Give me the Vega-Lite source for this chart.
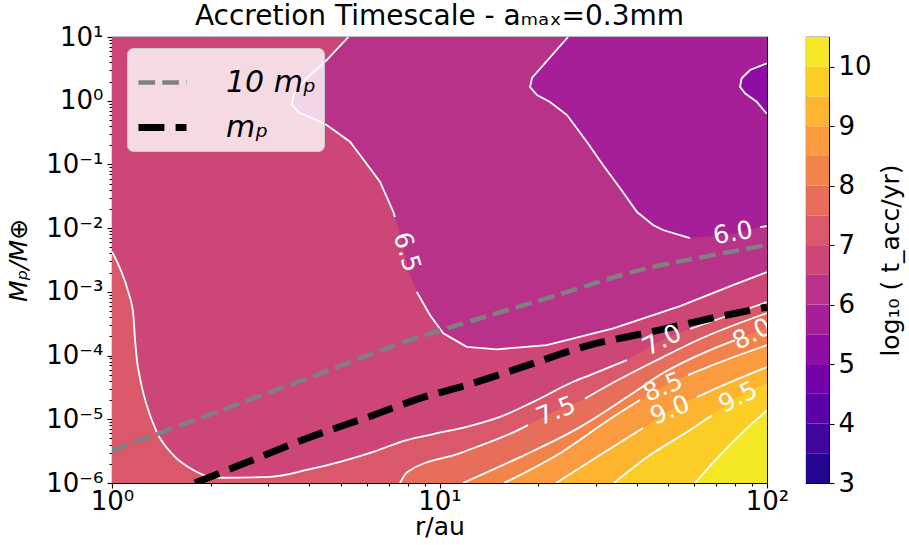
{
"$schema": "https://vega.github.io/schema/vega-lite/v6.json",
"padding": {"left": 6, "top": 2, "right": 4, "bottom": 4},
"bounds": "flush",
"spacing": 39,
"resolve": {"scale": {"color": "independent"}},
"config": {
  "font": "DejaVu Sans",
  "view": {"stroke": "black", "strokeWidth": 1.1},
  "axis": {"labelFont": "DejaVu Sans", "titleFont": "DejaVu Sans", "labelFontSize": 26, "titleFontSize": 25, "titleFontWeight": "normal", "labelColor": "black", "titleColor": "black", "tickColor": "black", "tickWidth": 1.1, "domain": false, "grid": false, "labelOverlap": false, "labelFlush": false, "labelBound": false},
  "title": {"font": "DejaVu Sans", "fontSize": 28, "fontWeight": "normal", "color": "black"},
  "legend": {"orient": "none", "legendX": 15, "legendY": 11, "fillColor": "rgba(255,255,255,0.8)", "strokeColor": "#cccccc", "cornerRadius": 6, "padding": 8, "labelFont": "DejaVu Sans", "labelFontSize": 30, "labelFontStyle": "italic", "labelColor": "black", "symbolType": "stroke", "symbolSize": 2304, "labelOffset": 36, "rowPadding": 2}
},
"datasets": {
  "bc": [
    {"lev":7,"x":1.0,"y":4.26e-3,"k":"7a"},
    {"lev":7,"x":1.058,"y":2.34e-3,"k":"7a"},
    {"lev":7,"x":1.121,"y":1.0e-3,"k":"7a"},
    {"lev":7,"x":1.162,"y":4.33e-4,"k":"7a"},
    {"lev":7,"x":1.175,"y":1.86e-4,"k":"7a"},
    {"lev":7,"x":1.19,"y":9.04e-5,"k":"7a"},
    {"lev":7,"x":1.218,"y":4.39e-5,"k":"7a"},
    {"lev":7,"x":1.276,"y":1.67e-5,"k":"7a"},
    {"lev":7,"x":1.369,"y":6.37e-6,"k":"7a"},
    {"lev":7,"x":1.539,"y":2.74e-6,"k":"7a"},
    {"lev":7,"x":1.771,"y":1.6e-6,"k":"7a"},
    {"lev":7,"x":1.992,"y":1.25e-6,"k":"7a"},
    {"lev":7,"x":2.187,"y":1.21e-6,"k":"7a"},
    {"lev":7,"x":3.036,"y":1.25e-6,"k":"7a"},
    {"lev":7,"x":3.93,"y":1.6e-6,"k":"7a"},
    {"lev":7,"x":4.968,"y":2.15e-6,"k":"7a"},
    {"lev":7,"x":6.28,"y":3.09e-6,"k":"7a"},
    {"lev":7,"x":7.94,"y":4.71e-6,"k":"7a"},
    {"lev":7,"x":9.58,"y":5.86e-6,"k":"7a"},
    {"lev":7,"x":12.11,"y":7.62e-6,"k":"7a"},
    {"lev":7,"x":15.3,"y":1.09e-5,"k":"7a"},
    {"lev":7,"x":19.34,"y":1.88e-5,"k":"7a"},
    {"lev":7,"x":25.62,"y":3.88e-5,"k":"7a"},
    {"lev":7,"x":28.81,"y":4.94e-5,"k":"7a"},
    {"lev":7,"x":37.29,"y":8.49e-5,"k":"7a"},
    {"lev":7,"x":47.8,"y":1.75e-4,"k":"g"},
    {"lev":7,"x":58.2,"y":2.61e-4,"k":"7b"},
    {"lev":7,"x":77.1,"y":4.33e-4,"k":"7b"},
    {"lev":7,"x":100,"y":6.92e-4,"k":"7b"},
    {"lev":7.5,"x":7.574,"y":1e-6,"k":"75a"},
    {"lev":7.5,"x":7.958,"y":1.48e-6,"k":"75a"},
    {"lev":7.5,"x":11.55,"y":2.94e-6,"k":"75a"},
    {"lev":7.5,"x":17.37,"y":6.76e-6,"k":"75a"},
    {"lev":7.5,"x":18.63,"y":8.11e-6,"k":"75a"},
    {"lev":7.5,"x":22.69,"y":1.35e-5,"k":"g"},
    {"lev":7.5,"x":27.82,"y":2.1e-5,"k":"75b"},
    {"lev":7.5,"x":30.48,"y":2.77e-5,"k":"75b"},
    {"lev":7.5,"x":48.13,"y":9.47e-5,"k":"75b"},
    {"lev":7.5,"x":62.44,"y":1.82e-4,"k":"75b"},
    {"lev":7.5,"x":100,"y":4.65e-4,"k":"75b"},
    {"lev":8,"x":11.8,"y":1e-6,"k":"8a"},
    {"lev":8,"x":17.62,"y":2.55e-6,"k":"8a"},
    {"lev":8,"x":26.85,"y":7.54e-6,"k":"8a"},
    {"lev":8,"x":38.17,"y":2.4e-5,"k":"8a"},
    {"lev":8,"x":48.13,"y":5.31e-5,"k":"8a"},
    {"lev":8,"x":66.99,"y":1.22e-4,"k":"8a"},
    {"lev":8,"x":79.85,"y":1.75e-4,"k":"8a"},
    {"lev":8,"x":100,"y":2.7e-4,"k":"g"},
    {"lev":8.5,"x":15.74,"y":1e-6,"k":"85a"},
    {"lev":8.5,"x":23.33,"y":2.94e-6,"k":"85a"},
    {"lev":8.5,"x":33.16,"y":1.01e-5,"k":"85a"},
    {"lev":8.5,"x":40.95,"y":2.0e-5,"k":"85a"},
    {"lev":8.5,"x":48.13,"y":3.2e-5,"k":"g"},
    {"lev":8.5,"x":57.38,"y":4.94e-5,"k":"85b"},
    {"lev":8.5,"x":66.99,"y":6.84e-5,"k":"85b"},
    {"lev":8.5,"x":100,"y":1.46e-4,"k":"85b"},
    {"lev":9,"x":22.69,"y":1e-6,"k":"9a"},
    {"lev":9,"x":30.91,"y":2.74e-6,"k":"9a"},
    {"lev":9,"x":41.82,"y":7.28e-6,"k":"9a"},
    {"lev":9,"x":50.55,"y":1.39e-5,"k":"g"},
    {"lev":9,"x":61.12,"y":2.23e-5,"k":"9b"},
    {"lev":9,"x":66.99,"y":2.77e-5,"k":"9b"},
    {"lev":9,"x":100,"y":6.59e-5,"k":"9b"},
    {"lev":9.5,"x":34.11,"y":1e-6,"k":"95a"},
    {"lev":9.5,"x":43.93,"y":2.74e-6,"k":"95a"},
    {"lev":9.5,"x":58.21,"y":6.76e-6,"k":"95a"},
    {"lev":9.5,"x":67.94,"y":1.16e-5,"k":"95a"},
    {"lev":9.5,"x":81.56,"y":2.23e-5,"k":"g"},
    {"lev":9.5,"x":100,"y":3.7e-5,"k":"g"},
    {"lev":10,"x":60.28,"y":1e-6,"k":"10a"},
    {"lev":10,"x":71.87,"y":2.74e-6,"k":"10a"},
    {"lev":10,"x":85.66,"y":6.76e-6,"k":"10a"},
    {"lev":10,"x":100,"y":1.39e-5,"k":"10a"}
  ],
  "lc": [
    {"k":"65a","i":1,"x":5.27,"y":10},
    {"k":"65a","i":2,"x":4.525,"y":4.355},
    {"k":"65a","i":3,"x":3.93,"y":2.247},
    {"k":"65a","i":4,"x":3.578,"y":1.229},
    {"k":"65a","i":5,"x":3.538,"y":0.856},
    {"k":"65a","i":6,"x":3.75,"y":0.634},
    {"k":"65a","i":7,"x":4.217,"y":0.498},
    {"k":"65a","i":8,"x":4.525,"y":0.4154},
    {"k":"65a","i":9,"x":5.33,"y":0.2272},
    {"k":"65a","i":10,"x":5.72,"y":0.1405},
    {"k":"65a","i":11,"x":6.58,"y":0.0535},
    {"k":"65a","i":12,"x":7.225,"y":0.01809},
    {"k":"65a","i":13,"x":7.31,"y":0.01494},
    {"k":"65b","i":14,"x":8.52,"y":1.004e-3},
    {"k":"65b","i":15,"x":9.35,"y":4.33e-4},
    {"k":"65b","i":16,"x":10.27,"y":2.23e-4},
    {"k":"65b","i":17,"x":12.11,"y":1.374e-4},
    {"k":"65b","i":18,"x":14.95,"y":1.251e-4},
    {"k":"65b","i":19,"x":21.25,"y":1.462e-4},
    {"k":"65b","i":20,"x":33.95,"y":2.673e-4},
    {"k":"65b","i":21,"x":54.25,"y":5.98e-4},
    {"k":"65b","i":22,"x":78.7,"y":1.279e-3},
    {"k":"65b","i":23,"x":100,"y":2.046e-3},
    {"k":"6a","i":1,"x":24.69,"y":10},
    {"k":"6a","i":2,"x":19.16,"y":2.272},
    {"k":"6a","i":3,"x":18.9,"y":1.641},
    {"k":"6a","i":4,"x":19.85,"y":1.229},
    {"k":"6a","i":5,"x":21.75,"y":0.954},
    {"k":"6a","i":6,"x":24.51,"y":0.5964},
    {"k":"6a","i":7,"x":28.21,"y":0.2247},
    {"k":"6a","i":8,"x":31.56,"y":0.0979},
    {"k":"6a","i":9,"x":35.57,"y":0.04261},
    {"k":"6a","i":10,"x":40.1,"y":0.01789},
    {"k":"6a","i":11,"x":44.87,"y":0.01119},
    {"k":"6a","i":12,"x":48.13,"y":9.34e-3},
    {"k":"6a","i":13,"x":58.21,"y":6.99e-3},
    {"k":"6b","i":14,"x":95.2,"y":0.01041},
    {"k":"6b","i":15,"x":100,"y":0.01079},
    {"k":"55a","i":1,"x":100,"y":3.865},
    {"k":"55a","i":2,"x":88.75,"y":3.034},
    {"k":"55a","i":3,"x":83.69,"y":2.247},
    {"k":"55a","i":4,"x":82.71,"y":1.659},
    {"k":"55a","i":5,"x":85.66,"y":1.307},
    {"k":"55a","i":6,"x":93.0,"y":0.9645},
    {"k":"55a","i":7,"x":98.6,"y":0.672},
    {"k":"55a","i":8,"x":100,"y":0.6295}
  ],
  "reg": [
    {"b":"6.0","x":3.538,"lo":0.856,"hi":0.856},
    {"b":"6.0","x":3.578,"lo":0.808,"hi":1.229},
    {"b":"6.0","x":3.75,"lo":0.634,"hi":1.662},
    {"b":"6.0","x":3.93,"lo":0.575,"hi":2.247},
    {"b":"6.0","x":4.217,"lo":0.498,"hi":3.128},
    {"b":"6.0","x":4.525,"lo":0.4154,"hi":4.355},
    {"b":"6.0","x":5.27,"lo":0.2372,"hi":10},
    {"b":"6.0","x":5.33,"lo":0.2272,"hi":10},
    {"b":"6.0","x":5.72,"lo":0.1405,"hi":10},
    {"b":"6.0","x":6.58,"lo":0.0535,"hi":10},
    {"b":"6.0","x":7.225,"lo":0.01809,"hi":10},
    {"b":"6.0","x":7.31,"lo":0.01494,"hi":10},
    {"b":"6.0","x":7.735,"lo":5.43e-3,"hi":10},
    {"b":"6.0","x":8.013,"lo":2.2e-3,"hi":10},
    {"b":"6.0","x":8.52,"lo":1.004e-3,"hi":10},
    {"b":"6.0","x":9.35,"lo":4.33e-4,"hi":10},
    {"b":"6.0","x":10.27,"lo":2.23e-4,"hi":10},
    {"b":"6.0","x":12.11,"lo":1.374e-4,"hi":10},
    {"b":"6.0","x":14.95,"lo":1.251e-4,"hi":10},
    {"b":"6.0","x":21.25,"lo":1.462e-4,"hi":10},
    {"b":"6.0","x":33.95,"lo":2.673e-4,"hi":10},
    {"b":"6.0","x":54.25,"lo":5.98e-4,"hi":10},
    {"b":"6.0","x":78.7,"lo":1.279e-3,"hi":10},
    {"b":"6.0","x":100,"lo":2.046e-3,"hi":10},
    {"b":"5.5","x":18.9,"lo":1.641,"hi":1.641},
    {"b":"5.5","x":19.16,"lo":1.51,"hi":2.272},
    {"b":"5.5","x":19.85,"lo":1.229,"hi":2.791},
    {"b":"5.5","x":21.75,"lo":0.954,"hi":4.767},
    {"b":"5.5","x":24.51,"lo":0.5964,"hi":9.61},
    {"b":"5.5","x":24.69,"lo":0.5678,"hi":10},
    {"b":"5.5","x":28.21,"lo":0.2247,"hi":10},
    {"b":"5.5","x":31.56,"lo":0.0979,"hi":10},
    {"b":"5.5","x":35.57,"lo":0.04261,"hi":10},
    {"b":"5.5","x":40.1,"lo":0.01789,"hi":10},
    {"b":"5.5","x":44.87,"lo":0.01119,"hi":10},
    {"b":"5.5","x":48.13,"lo":9.34e-3,"hi":10},
    {"b":"5.5","x":58.21,"lo":6.99e-3,"hi":10},
    {"b":"5.5","x":78.7,"lo":8.08e-3,"hi":10},
    {"b":"5.5","x":95.2,"lo":0.01041,"hi":10},
    {"b":"5.5","x":100,"lo":0.01079,"hi":10},
    {"b":"5.0","x":82.71,"lo":1.659,"hi":1.659},
    {"b":"5.0","x":83.69,"lo":1.532,"hi":2.247},
    {"b":"5.0","x":85.66,"lo":1.307,"hi":2.532},
    {"b":"5.0","x":88.75,"lo":1.147,"hi":3.034},
    {"b":"5.0","x":93.0,"lo":0.9645,"hi":3.337},
    {"b":"5.0","x":98.6,"lo":0.672,"hi":3.755},
    {"b":"5.0","x":100,"lo":0.6295,"hi":3.865}
  ],
  "mp": [
    {"s":"10 mₚ","x":1.0,"y":3.23e-6},
    {"s":"10 mₚ","x":1.946,"y":1.14e-5},
    {"s":"10 mₚ","x":3.93,"y":4.35e-5},
    {"s":"10 mₚ","x":8.717,"y":1.98e-4},
    {"s":"10 mₚ","x":10.52,"y":2.67e-4},
    {"s":"10 mₚ","x":21.25,"y":7.91e-4},
    {"s":"10 mₚ","x":42.93,"y":2.34e-3},
    {"s":"10 mₚ","x":68.55,"y":3.78e-3},
    {"s":"10 mₚ","x":100,"y":5.43e-3},
    {"s":"mₚ","x":1.792,"y":1.0e-6},
    {"s":"mₚ","x":2.459,"y":1.91e-6},
    {"s":"mₚ","x":3.93,"y":5.01e-6},
    {"s":"mₚ","x":6.28,"y":1.16e-5},
    {"s":"mₚ","x":8.717,"y":2.13e-5},
    {"s":"mₚ","x":12.11,"y":3.44e-5},
    {"s":"mₚ","x":19.34,"y":7.54e-5},
    {"s":"mₚ","x":27.49,"y":1.374e-4},
    {"s":"mₚ","x":44.46,"y":2.36e-4},
    {"s":"mₚ","x":71.0,"y":4.06e-4},
    {"s":"mₚ","x":100,"y":5.77e-4}
  ],
  "lab": [
    {"t":"6.5","x":7.958,"y":4.22e-3},
    {"t":"6.0","x":78.7,"y":8.38e-3},
    {"t":"7.0","x":47.8,"y":1.75e-4},
    {"t":"8.0","x":90.0,"y":2.18e-4},
    {"t":"9.5","x":81.56,"y":2.23e-5},
    {"t":"7.5","x":22.69,"y":1.35e-5},
    {"t":"8.5","x":48.13,"y":3.2e-5},
    {"t":"9.0","x":50.55,"y":1.39e-5}
  ],
  "cb": [
    {"lo":3,"hi":3.5},{"lo":3.5,"hi":4},{"lo":4,"hi":4.5},{"lo":4.5,"hi":5},{"lo":5,"hi":5.5},
    {"lo":5.5,"hi":6},{"lo":6,"hi":6.5},{"lo":6.5,"hi":7},{"lo":7,"hi":7.5},{"lo":7.5,"hi":8},
    {"lo":8,"hi":8.5},{"lo":8.5,"hi":9},{"lo":9,"hi":9.5},{"lo":9.5,"hi":10},{"lo":10,"hi":10.5}
  ]
},
"hconcat": [
  {
    "width": 655,
    "height": 446,
    "title": {"text": "Accretion Timescale - aₘₐₓ=0.3mm", "offset": -7},
    "layer": [
      {
        "data": {"values": [{"b": "bg"}]},
        "mark": {"type": "rect", "color": "#cc4778"},
        "encoding": {
          "x": {"datum": 1, "type": "quantitative", "scale": {"type": "log", "domain": [1, 100], "nice": false},
            "axis": {"title": "r/au", "titlePadding": 0, "labelPadding": 0,
              "values": [1,2,3,4,5,6,7,8,9,10,20,30,40,50,60,70,80,90,100],
              "tickSize": {"condition": {"test": "abs(log(datum.value)/LN10-round(log(datum.value)/LN10))<0.01", "value": 5}, "value": 3},
              "labelExpr": "abs(log(datum.value)/LN10-round(log(datum.value)/LN10))>0.01 ? '' : '10'+replace(replace(replace(replace(replace(replace(replace(replace(replace(''+round(log(datum.value)/LN10),'-','⁻'),'0','⁰'),'1','¹'),'2','²'),'3','³'),'4','⁴'),'5','⁵'),'6','⁶'),'7','⁷')"}},
          "x2": {"datum": 100},
          "y": {"datum": 1e-6, "type": "quantitative", "scale": {"type": "log", "domain": [1e-6, 10], "nice": false},
            "axis": {"title": "Mₚ/M⊕", "titleFontStyle": "italic", "titlePadding": 14, "labelPadding": 4,
              "values": [1e-6,2e-6,3e-6,4e-6,5e-6,6e-6,7e-6,8e-6,9e-6,1e-5,2e-5,3e-5,4e-5,5e-5,6e-5,7e-5,8e-5,9e-5,1e-4,2e-4,3e-4,4e-4,5e-4,6e-4,7e-4,8e-4,9e-4,1e-3,2e-3,3e-3,4e-3,5e-3,6e-3,7e-3,8e-3,9e-3,0.01,0.02,0.03,0.04,0.05,0.06,0.07,0.08,0.09,0.1,0.2,0.3,0.4,0.5,0.6,0.7,0.8,0.9,1,2,3,4,5,6,7,8,9,10],
              "tickSize": {"condition": {"test": "abs(log(datum.value)/LN10-round(log(datum.value)/LN10))<0.01", "value": 5}, "value": 3},
              "labelExpr": "abs(log(datum.value)/LN10-round(log(datum.value)/LN10))>0.01 ? '' : '10'+replace(replace(replace(replace(replace(replace(replace(replace(replace(''+round(log(datum.value)/LN10),'-','⁻'),'0','⁰'),'1','¹'),'2','²'),'3','³'),'4','⁴'),'5','⁵'),'6','⁶'),'7','⁷')"}},
          "y2": {"datum": 10}
        }
      },
      {"data": {"name": "bc"}, "transform": [{"filter": "datum.lev==7"}], "mark": {"type": "area", "color": "#d9596a", "interpolate": "monotone", "clip": true},
       "encoding": {"x": {"field": "x", "type": "quantitative"}, "y": {"field": "y", "type": "quantitative"}, "y2": {"datum": 1e-6}}},
      {"data": {"name": "bc"}, "transform": [{"filter": "datum.lev==7.5"}], "mark": {"type": "area", "color": "#e76e5b", "interpolate": "monotone", "clip": true},
       "encoding": {"x": {"field": "x", "type": "quantitative"}, "y": {"field": "y", "type": "quantitative"}, "y2": {"datum": 1e-6}}},
      {"data": {"name": "bc"}, "transform": [{"filter": "datum.lev==8"}], "mark": {"type": "area", "color": "#f2844b", "interpolate": "monotone", "clip": true},
       "encoding": {"x": {"field": "x", "type": "quantitative"}, "y": {"field": "y", "type": "quantitative"}, "y2": {"datum": 1e-6}}},
      {"data": {"name": "bc"}, "transform": [{"filter": "datum.lev==8.5"}], "mark": {"type": "area", "color": "#f99b3e", "interpolate": "monotone", "clip": true},
       "encoding": {"x": {"field": "x", "type": "quantitative"}, "y": {"field": "y", "type": "quantitative"}, "y2": {"datum": 1e-6}}},
      {"data": {"name": "bc"}, "transform": [{"filter": "datum.lev==9"}], "mark": {"type": "area", "color": "#fdb42f", "interpolate": "monotone", "clip": true},
       "encoding": {"x": {"field": "x", "type": "quantitative"}, "y": {"field": "y", "type": "quantitative"}, "y2": {"datum": 1e-6}}},
      {"data": {"name": "bc"}, "transform": [{"filter": "datum.lev==9.5"}], "mark": {"type": "area", "color": "#fcce25", "interpolate": "monotone", "clip": true},
       "encoding": {"x": {"field": "x", "type": "quantitative"}, "y": {"field": "y", "type": "quantitative"}, "y2": {"datum": 1e-6}}},
      {"data": {"name": "bc"}, "transform": [{"filter": "datum.lev==10"}], "mark": {"type": "area", "color": "#f4e826", "interpolate": "monotone", "clip": true},
       "encoding": {"x": {"field": "x", "type": "quantitative"}, "y": {"field": "y", "type": "quantitative"}, "y2": {"datum": 1e-6}}},
      {"data": {"name": "reg"}, "transform": [{"filter": "datum.b=='6.0'"}], "mark": {"type": "area", "color": "#b8328a", "clip": true},
       "encoding": {"x": {"field": "x", "type": "quantitative"}, "y": {"field": "lo", "type": "quantitative"}, "y2": {"field": "hi"}}},
      {"data": {"name": "reg"}, "transform": [{"filter": "datum.b=='5.5'"}], "mark": {"type": "area", "color": "#a61f98", "clip": true},
       "encoding": {"x": {"field": "x", "type": "quantitative"}, "y": {"field": "lo", "type": "quantitative"}, "y2": {"field": "hi"}}},
      {"data": {"name": "reg"}, "transform": [{"filter": "datum.b=='5.0'"}], "mark": {"type": "area", "color": "#8f0da4", "clip": true},
       "encoding": {"x": {"field": "x", "type": "quantitative"}, "y": {"field": "lo", "type": "quantitative"}, "y2": {"field": "hi"}}},
      {"data": {"name": "lc"}, "mark": {"type": "line", "color": "white", "strokeWidth": 1.8, "clip": true},
       "encoding": {"x": {"field": "x", "type": "quantitative"}, "y": {"field": "y", "type": "quantitative"}, "detail": {"field": "k"}, "order": {"field": "i", "type": "quantitative"}}},
      {"data": {"name": "bc"}, "transform": [{"filter": "datum.k!='g'"}], "mark": {"type": "line", "color": "white", "strokeWidth": 1.8, "interpolate": "monotone", "clip": true},
       "encoding": {"x": {"field": "x", "type": "quantitative"}, "y": {"field": "y", "type": "quantitative"}, "detail": {"field": "k"}}},
      {"data": {"name": "mp"}, "mark": {"type": "line", "interpolate": "monotone", "clip": true},
       "encoding": {"x": {"field": "x", "type": "quantitative"}, "y": {"field": "y", "type": "quantitative"},
         "strokeDash": {"field": "s", "type": "nominal", "scale": {"domain": ["10 mₚ", "mₚ"], "range": [[16.6, 7.2], [25.9, 11.2]]},
           "legend": {"title": null, "encode": {"symbols": {"update": {"stroke": {"signal": "datum.value === 'mₚ' ? '#000000' : '#808080'"}, "strokeWidth": {"signal": "datum.value === 'mₚ' ? 7 : 4.5"}}}}}},
         "color": {"field": "s", "type": "nominal", "scale": {"domain": ["10 mₚ", "mₚ"], "range": ["#808080", "#000000"]}, "legend": null},
         "strokeWidth": {"field": "s", "type": "nominal", "scale": {"domain": ["10 mₚ", "mₚ"], "range": [4.5, 7]}, "legend": null}}},
      {"data": {"name": "lab"}, "transform": [{"filter": "datum.t=='6.5'"}], "mark": {"type": "text", "color": "white", "fontSize": 25, "angle": 73, "align": "center", "baseline": "middle", "clip": true},
       "encoding": {"x": {"field": "x", "type": "quantitative"}, "y": {"field": "y", "type": "quantitative"}, "text": {"field": "t"}}},
      {"data": {"name": "lab"}, "transform": [{"filter": "datum.t=='6.0'"}], "mark": {"type": "text", "color": "white", "fontSize": 25, "angle": -10, "align": "center", "baseline": "middle", "clip": true},
       "encoding": {"x": {"field": "x", "type": "quantitative"}, "y": {"field": "y", "type": "quantitative"}, "text": {"field": "t"}}},
      {"data": {"name": "lab"}, "transform": [{"filter": "datum.t=='7.0' || datum.t=='8.0' || datum.t=='9.5'"}], "mark": {"type": "text", "color": "white", "fontSize": 25, "angle": -27, "align": "center", "baseline": "middle", "clip": true},
       "encoding": {"x": {"field": "x", "type": "quantitative"}, "y": {"field": "y", "type": "quantitative"}, "text": {"field": "t"}}},
      {"data": {"name": "lab"}, "transform": [{"filter": "datum.t=='7.5' || datum.t=='8.5' || datum.t=='9.0'"}], "mark": {"type": "text", "color": "white", "fontSize": 25, "angle": -22, "align": "center", "baseline": "middle", "clip": true},
       "encoding": {"x": {"field": "x", "type": "quantitative"}, "y": {"field": "y", "type": "quantitative"}, "text": {"field": "t"}}}
    ]
  },
  {
    "width": 23,
    "height": 446,
    "data": {"name": "cb"},
    "mark": {"type": "rect"},
    "encoding": {
      "x": {"datum": 0, "type": "quantitative", "scale": {"domain": [0, 1], "nice": false, "zero": false}, "axis": null},
      "x2": {"datum": 1},
      "y": {"field": "lo", "type": "quantitative", "scale": {"domain": [3, 10.5], "nice": false, "zero": false},
        "axis": {"orient": "right", "values": [3,4,5,6,7,8,9,10], "format": "d", "tickSize": 5, "labelPadding": 4, "title": "log₁₀ ( t_acc/yr)", "titleAngle": 270, "titleBaseline": "top", "titlePadding": 7}},
      "y2": {"field": "hi"},
      "color": {"field": "lo", "type": "ordinal", "scale": {"domain": [3,3.5,4,4.5,5,5.5,6,6.5,7,7.5,8,8.5,9,9.5,10], "range": ["#220690","#41049d","#5c01a6","#7501a8","#8f0da4","#a61f98","#b8328a","#cc4778","#d9596a","#e76e5b","#f2844b","#f99b3e","#fdb42f","#fcce25","#f4e826"]}, "legend": null}
    }
  }
]
}
